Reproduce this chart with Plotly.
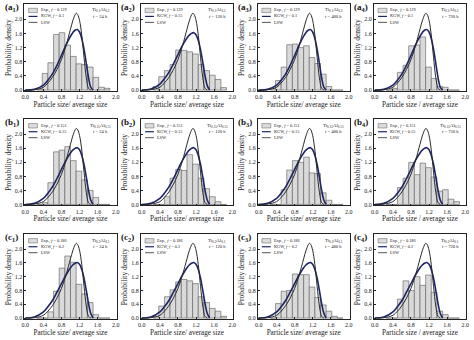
import plotly.graph_objects as go

# ---------------- data ----------------
X_TICKS = [0.0, 0.4, 0.8, 1.2, 1.6, 2.0]
Y_TICKS = [0.0, 0.4, 0.8, 1.2, 1.6, 2.0]

ROW_IDS = ["a", "b", "c"]
TIMES = ["24 h", "120 h", "480 h", "720 h"]
ALLOYS = ["Ti<sub>0.1</sub>Al<sub>0.2</sub>", "Ti<sub>0.15</sub>Al<sub>0.15</sub>", "Ti<sub>0.2</sub>Al<sub>0.1</sub>"]
EXP_F = ["0.129", "0.151", "0.186"]
KGW_F = [["0.1", "0.15", "0.1", "0.1"],
         ["0.15", "0.15", "0.15", "0.15"],
         ["0.2", "0.2", "0.2", "0.2"]]

# theoretical curves
LSW_X = [0.0, 0.2, 0.4, 0.5, 0.6, 0.7, 0.8, 0.9, 1.0, 1.05, 1.1, 1.13, 1.16, 1.2, 1.25, 1.3, 1.35, 1.4, 1.45]
LSW_Y = [0.0, 0.01, 0.08, 0.2, 0.36, 0.58, 0.86, 1.25, 1.72, 1.95, 2.12, 2.17, 2.13, 1.97, 1.55, 0.92, 0.35, 0.05, 0.0]
KGW_X = [0.0, 0.2, 0.4, 0.5, 0.6, 0.7, 0.8, 0.9, 1.0, 1.05, 1.1, 1.15, 1.2, 1.25, 1.3, 1.35, 1.4, 1.45, 1.5]
KGW_Y_010 = [0.0, 0.02, 0.14, 0.28, 0.46, 0.7, 0.98, 1.27, 1.52, 1.62, 1.69, 1.71, 1.64, 1.45, 1.15, 0.75, 0.35, 0.08, 0.0]
KGW_Y_015 = [0.0, 0.03, 0.17, 0.32, 0.5, 0.74, 1.0, 1.26, 1.47, 1.55, 1.6, 1.62, 1.56, 1.4, 1.14, 0.78, 0.4, 0.12, 0.0]
KGW_Y_020 = [0.0, 0.03, 0.18, 0.33, 0.51, 0.75, 1.0, 1.25, 1.46, 1.54, 1.59, 1.61, 1.56, 1.41, 1.16, 0.8, 0.42, 0.13, 0.0]

# experimental histograms (bin centres, width 0.125)
BIN_W = 0.125
BIN_X = [0.3125, 0.4375, 0.5625, 0.6875, 0.8125, 0.9375, 1.0625,
         1.1875, 1.3125, 1.4375, 1.5625, 1.6875, 1.8125]
H_A1 = [0.03, 0.47, 0.77, 1.57, 1.62, 1.27, 0.95, 0.74, 0.72, 0.65, 0.36, 0.08, 0.05]
H_A2 = [0.1, 0.38, 0.55, 0.72, 1.13, 1.12, 1.08, 1.02, 0.72, 0.55, 0.42, 0.3, 0.07]
H_A3 = [0.05, 0.27, 0.65, 1.28, 1.3, 1.2, 1.25, 0.92, 0.75, 0.45, 0.1, 0.0, 0.0]
H_A4 = [0.0, 0.05, 0.5, 0.7, 1.25, 1.27, 1.5, 0.65, 0.33, 0.1, 0.08, 0.0, 0.0]
H_B1 = [0.0, 0.05, 0.62, 1.5, 1.55, 1.65, 1.25, 0.95, 0.7, 0.4, 0.2, 0.0, 0.0]
H_B2 = [0.0, 0.0, 0.22, 0.75, 1.0, 0.97, 1.42, 1.15, 0.75, 0.45, 0.22, 0.08, 0.0]
H_B3 = [0.0, 0.0, 0.42, 0.98, 1.25, 1.2, 1.35, 0.9, 0.88, 0.33, 0.12, 0.0, 0.0]
H_B4 = [0.0, 0.0, 0.48, 0.75, 1.2, 0.85, 1.18, 1.05, 0.78, 0.38, 0.42, 0.15, 0.08]
H_C1 = [0.0, 0.0, 0.18, 0.78, 1.45, 1.8, 1.62, 0.98, 0.7, 0.45, 0.1, 0.0, 0.0]
H_C2 = [0.05, 0.35, 0.62, 0.82, 1.05, 1.12, 1.08, 1.0, 0.62, 0.45, 0.28, 0.2, 0.05]
H_C3 = [0.0, 0.42, 0.78, 0.8, 1.28, 1.26, 1.26, 0.9, 0.6, 0.38, 0.2, 0.05, 0.0]
H_C4 = [0.0, 0.0, 0.55, 1.08, 0.8, 1.2, 0.95, 1.25, 0.75, 0.2, 0.1, 0.0, 0.0]
HISTS = [[H_A1, H_A2, H_A3, H_A4], [H_B1, H_B2, H_B3, H_B4], [H_C1, H_C2, H_C3, H_C4]]

# ---------------- layout ----------------
W, H = 474, 340
COL_PX = [(21.7, 115.0), (139.7, 233.0), (258.0, 351.0), (375.7, 469.0)]
ROW_PX = [(4.0, 91.7), (120.0, 206.7), (235.7, 321.0)]
FONT = "Liberation Serif"
INK = "#222222"


def px(x, y):
    return x / W, 1 - y / H


fig = go.Figure()
annotations = []
shapes = []

for r in range(3):
    for c in range(4):
        n = r * 4 + c + 1
        xa = "x" if n == 1 else f"x{n}"
        ya = "y" if n == 1 else f"y{n}"
        kgw_f = KGW_F[r][c]
        kgw_y = {"0.1": KGW_Y_010, "0.15": KGW_Y_015, "0.2": KGW_Y_020}[kgw_f]

        fig.add_trace(go.Bar(
            x=BIN_X, y=HISTS[r][c], width=BIN_W, xaxis=xa, yaxis=ya,
            marker=dict(color="#dcdcdc", line=dict(color="#5a5a5a", width=0.6),
                        pattern=dict(shape="/", fgcolor="#a0a0a0", size=3, solidity=0.12,
                                     fillmode="overlay")),
            showlegend=False))
        fig.add_trace(go.Scatter(x=KGW_X, y=kgw_y, mode="lines", xaxis=xa, yaxis=ya,
                                 line=dict(color="#1e2566", width=1.6, shape="spline"),
                                 showlegend=False))
        fig.add_trace(go.Scatter(x=LSW_X, y=LSW_Y, mode="lines", xaxis=xa, yaxis=ya,
                                 line=dict(color="#2a2a2a", width=1.0, shape="spline"),
                                 showlegend=False))

        x0, x1 = COL_PX[c]
        y0, y1 = ROW_PX[r]
        xkey = "xaxis" if n == 1 else f"xaxis{n}"
        ykey = "yaxis" if n == 1 else f"yaxis{n}"
        xtitle = "Particle size / average size" if c == 3 else "Particle size/ average size"
        fig.update_layout(**{
            xkey: dict(domain=[x0 / W, x1 / W], anchor=ya, range=[-0.02, 2.02],
                       tickvals=X_TICKS, ticktext=[f"{v:.1f}" for v in X_TICKS],
                       ticks="inside", ticklen=2, tickwidth=0.6, tickcolor=INK,
                       showline=True, linecolor=INK, linewidth=0.8, mirror=True,
                       showgrid=False, zeroline=False,
                       tickfont=dict(family=FONT, size=6, color=INK),
                       title=dict(text=xtitle, font=dict(family=FONT, size=7.2, color=INK), standoff=2)),
            ykey: dict(domain=[1 - y1 / H, 1 - y0 / H], anchor=xa, range=[-0.03, 2.43],
                       tickvals=Y_TICKS, ticktext=[f"{v:.1f}" for v in Y_TICKS],
                       ticks="inside", ticklen=2, tickwidth=0.6, tickcolor=INK,
                       showline=True, linecolor=INK, linewidth=0.8, mirror=True,
                       showgrid=False, zeroline=False,
                       tickfont=dict(family=FONT, size=6, color=INK),
                       title=dict(text="Probability density", font=dict(family=FONT, size=7.5, color=INK), standoff=2)),
        })

        bw = x1 - x0

        # panel label
        lx, ly = px(x0 - 22, y0 - 4)
        annotations.append(dict(text=f"<b>({ROW_IDS[r]}<sub>{c + 1}</sub>)</b>", xref="paper", yref="paper",
                                x=lx, y=ly, xanchor="left", yanchor="top", showarrow=False,
                                font=dict(family=FONT, size=9, color="#111")))
        # legend
        leg_rows = [y0 + 6.5, y0 + 12.5, y0 + 18.5]
        sx0, sx1 = x0 + 4.2, x0 + 13.2
        a0, b0 = px(sx0, leg_rows[0] - 2.2)
        a1, b1 = px(sx1, leg_rows[0] + 2.2)
        shapes.append(dict(type="rect", xref="paper", yref="paper", x0=a0, x1=a1, y0=b1, y1=b0,
                           fillcolor="#dcdcdc", line=dict(color="#5a5a5a", width=0.5)))
        for yy, col, wd in [(leg_rows[1], "#1e2566", 1.2), (leg_rows[2], "#2a2a2a", 0.8)]:
            a0, b0 = px(sx0, yy)
            a1, _ = px(sx1, yy)
            shapes.append(dict(type="line", xref="paper", yref="paper", x0=a0, x1=a1, y0=b0, y1=b0,
                               line=dict(color=col, width=wd)))
        leg_txt = [f"Exp., <i>f</i> = {EXP_F[r]}", f"KGW, <i>f</i> = {kgw_f}", "LSW"]
        for t, yy in zip(leg_txt, leg_rows):
            tx, ty = px(sx1 + 1.5, yy)
            annotations.append(dict(text=t, xref="paper", yref="paper", x=tx, y=ty, xanchor="left",
                                    yanchor="middle", showarrow=False,
                                    font=dict(family=FONT, size=4.3, color=INK)))
        tx, ty = px(x0 + 0.83 * bw, y0 + 6.5)
        annotations.append(dict(text=ALLOYS[r], xref="paper", yref="paper", x=tx, y=ty,
                                xanchor="center", yanchor="middle", showarrow=False,
                                font=dict(family=FONT, size=4.8, color=INK)))
        tx, ty = px(x0 + 0.83 * bw, y0 + 12.5)
        annotations.append(dict(text=f"<i>t</i> = {TIMES[c]}", xref="paper", yref="paper", x=tx, y=ty,
                                xanchor="center", yanchor="middle", showarrow=False,
                                font=dict(family=FONT, size=4.6, color=INK)))

fig.update_layout(width=W, height=H, margin=dict(l=0, r=0, t=0, b=0),
                  paper_bgcolor="white", plot_bgcolor="white", barmode="overlay",
                  annotations=annotations, shapes=shapes, showlegend=False)
fig.write_html("out.html")
